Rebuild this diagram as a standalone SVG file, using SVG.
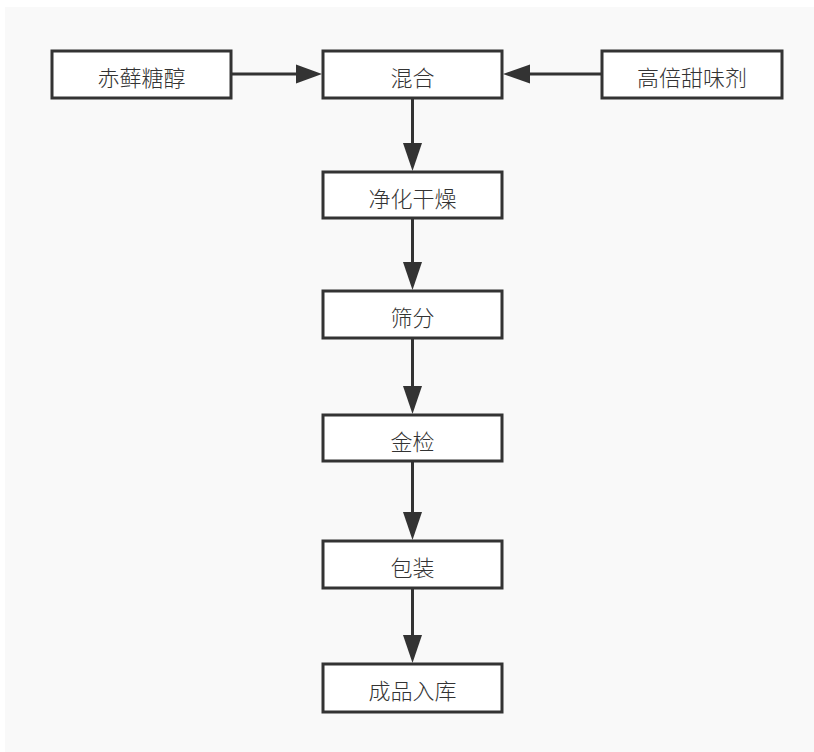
<svg xmlns="http://www.w3.org/2000/svg" width="814" height="752" viewBox="0 0 814 752">
<style>
.box{fill:#ffffff;stroke:#333333;stroke-width:3}
.lbl{font-family:"Noto Sans CJK SC","Noto Sans",sans-serif;font-size:22px;font-weight:300;fill:#333333;text-anchor:middle;dominant-baseline:central}
.con{stroke:#333333;stroke-width:3;fill:none}
.ah{fill:#333333}
</style>
<rect x="0" y="0" width="814" height="752" fill="#ffffff"/>
<rect x="5" y="7" width="809" height="745" fill="#f9f9f9"/>
<g id="connectors">
<line class="con" x1="232" y1="74" x2="298" y2="74"/>
<polygon class="ah" points="296,64.5 322,74 296,83.5"/>
<line class="con" x1="601" y1="74" x2="528" y2="74"/>
<polygon class="ah" points="530,64.5 503,74 530,83.5"/>
<line class="con" x1="412.5" y1="99" x2="412.5" y2="146"/>
<polygon class="ah" points="403,143 412.5,171 422,143"/>
<line class="con" x1="412.5" y1="219" x2="412.5" y2="265"/>
<polygon class="ah" points="403,262 412.5,290 422,262"/>
<line class="con" x1="412.5" y1="339" x2="412.5" y2="389"/>
<polygon class="ah" points="403,386 412.5,414 422,386"/>
<line class="con" x1="412.5" y1="462" x2="412.5" y2="515"/>
<polygon class="ah" points="403,512 412.5,540 422,512"/>
<line class="con" x1="412.5" y1="589" x2="412.5" y2="638"/>
<polygon class="ah" points="403,635 412.5,663 422,635"/>
</g>
<g id="n1"><rect class="box" x="52" y="51" width="179" height="47"/><text class="lbl" x="141.5" y="76">赤藓糖醇</text></g>
<g id="n2"><rect class="box" x="323" y="51" width="179" height="47"/><text class="lbl" x="412.5" y="76">混合</text></g>
<g id="n3"><rect class="box" x="602" y="51" width="180" height="47"/><text class="lbl" x="692" y="76">高倍甜味剂</text></g>
<g id="n4"><rect class="box" x="323" y="172" width="179" height="46"/><text class="lbl" x="412.5" y="197">净化干燥</text></g>
<g id="n5"><rect class="box" x="323" y="291" width="179" height="47"/><text class="lbl" x="412.5" y="316">筛分</text></g>
<g id="n6"><rect class="box" x="323" y="415" width="179" height="46"/><text class="lbl" x="412.5" y="440">金检</text></g>
<g id="n7"><rect class="box" x="323" y="541" width="179" height="47"/><text class="lbl" x="412.5" y="566">包装</text></g>
<g id="n8"><rect class="box" x="323" y="664" width="179" height="48"/><text class="lbl" x="412.5" y="689">成品入库</text></g>
</svg>
